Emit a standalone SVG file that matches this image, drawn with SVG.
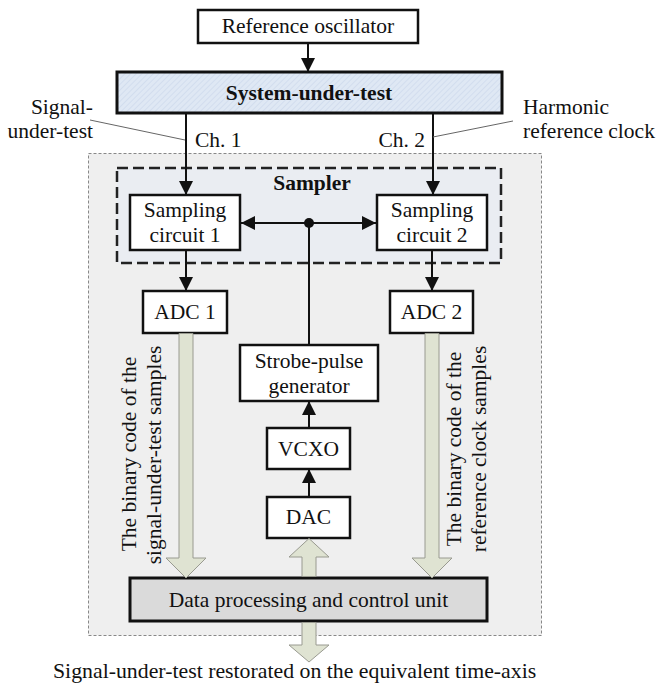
<svg xmlns="http://www.w3.org/2000/svg" width="659" height="686" viewBox="0 0 659 686">
<defs>
<style>
text{font-family:"Liberation Serif","Times New Roman",serif;font-size:21.5px;fill:#111}
.c{text-anchor:middle}
.b{font-weight:bold}
.box{fill:#fff;stroke:#111;stroke-width:2.5}
.ln{stroke:#111;stroke-width:2;fill:none}
.lead{stroke:#666;stroke-width:1;fill:none}
.fat{fill:#dfe3d2;stroke:#999a90;stroke-width:1}
</style>
<pattern id="hatch" width="4" height="4" patternUnits="userSpaceOnUse" patternTransform="rotate(45)">
<rect width="4" height="4" fill="#dfe8f4"/>
<line x1="0" y1="0" x2="0" y2="4" stroke="#c9d6ea" stroke-width="1.2"/>
</pattern>
<marker id="ah" markerUnits="userSpaceOnUse" markerWidth="14" markerHeight="14" refX="14" refY="7" orient="auto">
<path d="M0,0 L14,7 L0,14 z" fill="#111"/>
</marker>
</defs>

<rect id="region" x="88.5" y="153.5" width="453" height="482" fill="#efefef" stroke="#888" stroke-width="1" stroke-dasharray="3 2"/>

<g id="sampler">
<rect x="117" y="168" width="384" height="95" fill="#eaedf2" stroke="#222" stroke-width="2.5" stroke-dasharray="11 5"/>
<text class="c b" x="312" y="190">Sampler</text>
</g>

<g id="refosc">
<rect class="box" x="198" y="10" width="220" height="33"/>
<text class="c" x="308" y="33">Reference oscillator</text>
</g>

<g id="sut">
<rect x="117" y="72" width="385" height="41" fill="url(#hatch)" stroke="#111" stroke-width="3"/>
<text class="c b" x="309" y="100">System-under-test</text>
</g>

<g id="labels">
<text x="93" y="114" text-anchor="end">Signal-</text>
<text x="93" y="138" text-anchor="end">under-test</text>
<text x="523" y="114">Harmonic</text>
<text x="523" y="138">reference clock</text>
<text x="195" y="147">Ch. 1</text>
<text x="425" y="147" text-anchor="end">Ch. 2</text>
</g>

<g id="sc1">
<rect class="box" x="130" y="195" width="110" height="55"/>
<text class="c" x="185" y="217">Sampling</text>
<text class="c" x="185" y="242">circuit 1</text>
</g>

<g id="sc2">
<rect class="box" x="377" y="195" width="110" height="55"/>
<text class="c" x="432" y="217">Sampling</text>
<text class="c" x="432" y="242">circuit 2</text>
</g>

<g id="adc1">
<rect class="box" x="143" y="291" width="84" height="42"/>
<text class="c" x="185" y="319">ADC 1</text>
</g>

<g id="adc2">
<rect class="box" x="390" y="291" width="83" height="42"/>
<text class="c" x="431.5" y="319">ADC 2</text>
</g>

<g id="strobe">
<rect class="box" x="240" y="345" width="138" height="56"/>
<text class="c" x="309" y="368">Strobe-pulse</text>
<text class="c" x="309" y="393">generator</text>
</g>

<g id="vcxo">
<rect class="box" x="267" y="428" width="83" height="41"/>
<text class="c" x="308.5" y="456">VCXO</text>
</g>

<g id="dac">
<rect class="box" x="267" y="497" width="83" height="41"/>
<text class="c" x="308.5" y="524">DAC</text>
</g>

<g id="dpu">
<rect x="130" y="578" width="357" height="43" fill="#dadada" stroke="#111" stroke-width="3"/>
<text class="c" x="308.5" y="607">Data processing and control unit</text>
</g>

<g id="connectors">
<line class="ln" x1="308" y1="43" x2="308" y2="72" marker-end="url(#ah)"/>
<line class="ln" x1="186" y1="113" x2="186" y2="195" marker-end="url(#ah)"/>
<line class="ln" x1="433" y1="113" x2="433" y2="195" marker-end="url(#ah)"/>
<line class="ln" x1="309" y1="223" x2="241" y2="223" marker-end="url(#ah)"/>
<line class="ln" x1="309" y1="223" x2="376" y2="223" marker-end="url(#ah)"/>
<circle cx="309" cy="223" r="5" fill="#111"/>
<line class="ln" x1="309" y1="223" x2="309" y2="345"/>
<line class="ln" x1="186" y1="250" x2="186" y2="291" marker-end="url(#ah)"/>
<line class="ln" x1="432" y1="250" x2="432" y2="291" marker-end="url(#ah)"/>
<line class="ln" x1="309" y1="428" x2="309" y2="401" marker-end="url(#ah)"/>
<line class="ln" x1="309" y1="497" x2="309" y2="469" marker-end="url(#ah)"/>
<line class="lead" x1="90" y1="120" x2="185" y2="140"/>
<line class="lead" x1="513" y1="121" x2="433" y2="137"/>
<polygon class="fat" points="179,333.5 193,333.5 193,558 206,558 186,578 166,558 179,558"/>
<polygon class="fat" points="425,333.5 439,333.5 439,558 452,558 432,578 412,558 425,558"/>
<polygon class="fat" points="302,576.5 316,576.5 316,557 329,557 309,538.5 289,557 302,557"/>
<polygon class="fat" points="302,622.5 316,622.5 316,645 329,645 309,662 289,645 302,645"/>
</g>

<g id="rotlabels">
<text class="c" transform="translate(136,454) rotate(-90)">The binary code of the</text>
<text class="c" transform="translate(161,455) rotate(-90)">signal-under-test samples</text>
<text class="c" transform="translate(461,449) rotate(-90)">The binary code of the</text>
<text class="c" transform="translate(486,449) rotate(-90)">reference clock samples</text>
</g>

<text x="53" y="678" style="font-size:21.8px">Signal-under-test restorated on the equivalent time-axis</text>
</svg>
